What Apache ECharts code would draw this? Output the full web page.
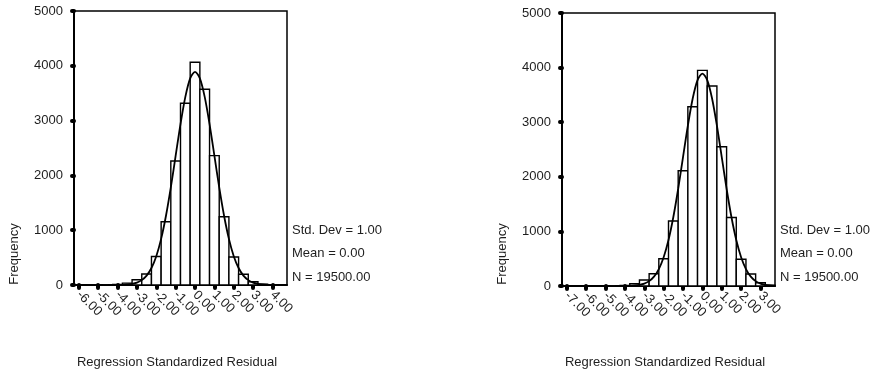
<!DOCTYPE html>
<html>
<head>
<meta charset="utf-8">
<script src="https://cdn.jsdelivr.net/npm/echarts@6/dist/echarts.min.js"></script>
<style>
html,body{margin:0;padding:0;background:#fff;}
#chart{width:875px;height:372px;}
</style>
</head>
<body>
<div id="chart"></div>
<script>
// ---- data ----
const binWidth = 0.5;
// Left histogram
const bins1 = [-4.5, -4, -3.5, -3, -2.5, -2, -1.5, -1, -0.5, 0, 0.5, 1, 1.5, 2, 2.5, 3, 3.5, 4];
const freq1 = [3, 10, 35, 95, 200, 520, 1155, 2263, 3316, 4064, 3571, 2360, 1246, 510, 195, 60, 15, 5];
const ticks1 = [-6, -5, -4, -3, -2, -1, 0, 1, 2, 3, 4];
const curveX1 = [-4.5,-4.25,-4,-3.75,-3.5,-3.25,-3,-2.75,-2.5,-2.25,-2,-1.75,-1.5,-1.25,-1,-0.75,-0.5,-0.25,0,0.25,0.5,0.75,1,1.25,1.5,1.75,2,2.25,2.5,2.75,3,3.25,3.5,3.75,4,4.25,4.5];
const curveY1 = [0,0,1,3,9,20,43,89,171,310,526,841,1263,1781,2360,2936,3433,3770,3890,3770,3433,2936,2360,1781,1263,841,526,310,171,89,43,20,9,3,1,0,0];
// Right histogram
const bins2 = [-4.5, -4, -3.5, -3, -2.5, -2, -1.5, -1, -0.5, 0, 0.5, 1, 1.5, 2, 2.5, 3, 3.5];
const freq2 = [3, 10, 40, 110, 225, 500, 1190, 2112, 3284, 3950, 3663, 2551, 1255, 490, 220, 60, 15];
const ticks2 = [-7, -6, -5, -4, -3, -2, -1, 0, 1, 2, 3];
const curveX2 = [-4.5,-4.25,-4,-3.75,-3.5,-3.25,-3,-2.75,-2.5,-2.25,-2,-1.75,-1.5,-1.25,-1,-0.75,-0.5,-0.25,0,0.25,0.5,0.75,1,1.25,1.5,1.75,2,2.25,2.5,2.75,3,3.25,3.5,3.75];
const curveY2 = [0,0,1,3,9,20,43,89,171,310,526,841,1263,1781,2360,2936,3433,3770,3890,3770,3433,2936,2360,1781,1263,841,526,310,171,89,43,20,9,3];
const yTicks = [0, 1000, 2000, 3000, 4000, 5000];
const statLines = ['Std. Dev = 1.00', 'Mean = 0.00', 'N = 19500.00'];
const xTitle = 'Regression Standardized Residual';
const yTitle = 'Frequency';

// ---- chart ----
const FONT = 'Liberation Sans, Arial, sans-serif';
const TXT = '#1e1e1e';
const chart = echarts.init(document.getElementById('chart'), null, {renderer: 'canvas'});

function renderBar(params, api) {
  const c = api.value(0), v = api.value(1);
  const p1 = api.coord([c - binWidth / 2, v]);
  const p2 = api.coord([c + binWidth / 2, 0]);
  return {
    type: 'rect',
    shape: {x: p1[0], y: p1[1], width: p2[0] - p1[0], height: p2[1] - p1[1]},
    style: {fill: '#fff', stroke: '#000', lineWidth: 1.4}
  };
}

function xAxisCfg(idx, min, max, ticks) {
  return {
    type: 'value', gridIndex: idx, min: min, max: max,
    splitLine: {show: false},
    axisLine: {show: true, onZero: false, lineStyle: {color: '#000', width: 2}},
    axisTick: {show: true, customValues: ticks, length: 3, lineStyle: {color: '#000', width: 4, cap: 'round'}},
    axisLabel: {show: true, customValues: ticks, formatter: v => Number(v).toFixed(2), rotate: -45, margin: 8,
      fontSize: 13, fontFamily: FONT, color: TXT}
  };
}
function yAxisCfg(idx) {
  return {
    type: 'value', gridIndex: idx, min: 0, max: 5000, interval: 1000,
    splitLine: {show: false},
    axisLine: {show: true, onZero: false, lineStyle: {color: '#000', width: 2}},
    axisTick: {show: true, customValues: yTicks, length: 2, lineStyle: {color: '#000', width: 4, cap: 'round'}},
    axisLabel: {show: true, customValues: yTicks, formatter: v => String(v), margin: 11, fontSize: 13, fontFamily: FONT, color: TXT}
  };
}

const graphics = [];
function addTexts(dx) {
  graphics.push({type: 'text', x: 14 + dx, y: 254, rotation: Math.PI / 2,
    style: {text: yTitle, font: '13px ' + FONT, fill: TXT, align: 'center', verticalAlign: 'middle'}});
  graphics.push({type: 'text', x: 177 + dx, y: 362,
    style: {text: xTitle, font: '13px ' + FONT, fill: TXT, align: 'center', verticalAlign: 'middle'}});
  const ys = [230, 253, 277];
  statLines.forEach((s, i) => {
    graphics.push({type: 'text', x: 292 + dx, y: ys[i],
      style: {text: s, font: '13px ' + FONT, fill: TXT, align: 'left', verticalAlign: 'middle'}});
  });
}
addTexts(0);
addTexts(488);

chart.setOption({
  animation: false,
  backgroundColor: '#fff',
  grid: [
    {left: 74, top: 11, width: 213, height: 274, show: true, borderColor: '#000', borderWidth: 1.5},
    {left: 562, top: 13, width: 213, height: 273, show: true, borderColor: '#000', borderWidth: 1.5}
  ],
  xAxis: [xAxisCfg(0, -6.25, 4.75, ticks1), xAxisCfg(1, -7.25, 3.75, ticks2)],
  yAxis: [yAxisCfg(0), yAxisCfg(1)],
  series: [
    {type: 'custom', xAxisIndex: 0, yAxisIndex: 0, renderItem: renderBar, z: 2,
      encode: {x: 0, y: 1}, data: bins1.map((b, i) => [b, freq1[i]])},
    {type: 'line', xAxisIndex: 0, yAxisIndex: 0, smooth: 0.3, showSymbol: false, z: 3,
      lineStyle: {color: '#000', width: 1.8}, data: curveX1.map((x, i) => [x, curveY1[i]])},
    {type: 'custom', xAxisIndex: 1, yAxisIndex: 1, renderItem: renderBar, z: 2,
      encode: {x: 0, y: 1}, data: bins2.map((b, i) => [b, freq2[i]])},
    {type: 'line', xAxisIndex: 1, yAxisIndex: 1, smooth: 0.3, showSymbol: false, z: 3,
      lineStyle: {color: '#000', width: 1.8}, data: curveX2.map((x, i) => [x, curveY2[i]])}
  ],
  graphic: graphics
});
</script>
</body>
</html>
